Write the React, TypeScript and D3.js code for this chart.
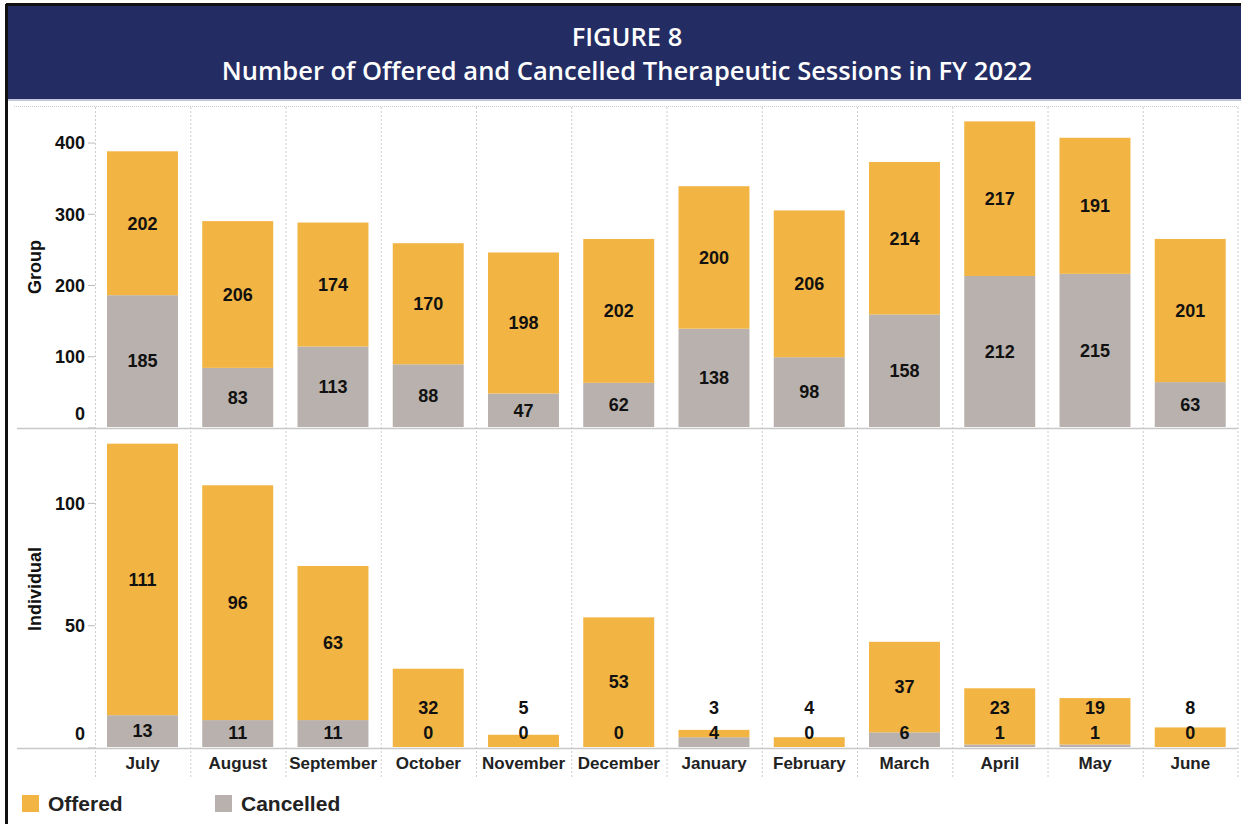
import React from 'react'
import * as d3 from 'd3'

const months = ['July', 'August', 'September', 'October', 'November', 'December', 'January', 'February', 'March', 'April', 'May', 'June']
const groupOffered = [202, 206, 174, 170, 198, 202, 200, 206, 214, 217, 191, 201]
const groupCancelled = [185, 83, 113, 88, 47, 62, 138, 98, 158, 212, 215, 63]
const indOffered = [111, 96, 63, 32, 5, 53, 3, 4, 37, 23, 19, 8]
const indCancelled = [13, 11, 11, 0, 0, 0, 4, 0, 6, 1, 1, 0]
const groupTicks = [0, 100, 200, 300, 400]
const indTicks = [0, 50, 100]

const ORANGE = '#F2B443'
const GREY = '#B8B1AD'
const NAVY = '#232D63'
const FONT = '"Liberation Sans", Arial, sans-serif'

const W = 1241
const H = 824
const left = 95
const right = 1238

const x = d3.scaleBand<string>().domain(months).range([left, right]).padding(0)

type PanelProps = {
  title: string
  offered: number[]
  cancelled: number[]
  ticks: number[]
  yMax: number
  top: number
  bottom: number
}

function Panel({ title, offered, cancelled, ticks, yMax, top, bottom }: PanelProps) {
  const y = d3.scaleLinear().domain([0, yMax]).range([bottom, top])
  const bw = x.bandwidth()
  return (
    <g>
      {ticks.map(t => (
        <g key={t}>
          <line x1={88} x2={left} y1={y(t)} y2={y(t)} stroke="#bbb" />
          <text x={85} y={y(t) + (t === 0 ? -14 : 0)} dy="0.35em" textAnchor="end" fontSize={18} fontWeight="bold" fill="#111">{t}</text>
        </g>
      ))}
      <text transform={`translate(41,${(top + bottom) / 2}) rotate(-90)`} textAnchor="middle" fontSize={18} fontWeight="bold" fill="#111">{title}</text>
      {months.map((m, i) => {
        const bx = x(m)! + bw * 0.126
        const w = bw * 0.745
        const c = cancelled[i]
        const o = offered[i]
        const y0 = y(0) - 1
        const yc = y(c) - 1
        const yo = y(c + o) - 1
        const cLabel = Math.min((y0 + yc) / 2, y0 - 14)
        const oLabel = Math.min((yc + yo) / 2, cLabel - 25)
        const cx = bx + w / 2
        return (
          <g key={m}>
            <rect x={bx} y={yc} width={w} height={y0 - yc} fill={GREY} />
            <rect x={bx} y={yo} width={w} height={yc - yo} fill={ORANGE} />
            <text x={cx} y={cLabel} dy="0.35em" textAnchor="middle" fontSize={18} fontWeight="bold" fill="#111">{c}</text>
            <text x={cx} y={oLabel} dy="0.35em" textAnchor="middle" fontSize={18} fontWeight="bold" fill="#111">{o}</text>
          </g>
        )
      })}
      <line x1={17} x2={right} y1={bottom + 0.5} y2={bottom + 0.5} stroke="#c8c8c8" strokeWidth={1.5} />
    </g>
  )
}

export default function App() {
  const bw = x.bandwidth()
  return (
    <svg width={W} height={H} style={{ position: 'absolute', left: 0, top: 0, background: '#fff' }} fontFamily={FONT}>
      <rect x={0} y={0} width={W} height={H} fill="#fff" />
      <rect x={8} y={6} width={W - 8} height={93} fill={NAVY} />
      <line x1={6.5} x2={6.5} y1={4} y2={H} stroke="#111" strokeWidth={3} />
      <line x1={6} x2={W} y1={4.5} y2={4.5} stroke="#111" strokeWidth={3} />
      <line x1={8} x2={W} y1={100} y2={100} stroke="#aeb4cc" strokeWidth={1.5} />
      <text x={627} y={46} textAnchor="middle" fontSize={25.5} fill="#fff" fontFamily='"Open Sans", sans-serif' fontWeight={600}>FIGURE 8</text>
      <text x={627} y={80} textAnchor="middle" fontSize={25.5} fill="#fff" fontFamily='"Open Sans", sans-serif' fontWeight={600}>Number of Offered and Cancelled Therapeutic Sessions in FY 2022</text>
      <line x1={14} x2={right} y1={106.5} y2={106.5} stroke="#ccc" strokeDasharray="1,1" />
      {months.map(m => (
        <line key={m} x1={x(m)! + 0.5} x2={x(m)! + 0.5} y1={107} y2={777} stroke="#ccc" strokeDasharray="2,2" />
      ))}
      <line x1={right} x2={right} y1={107} y2={777} stroke="#ccc" strokeDasharray="2,2" />
      <Panel title="Group" offered={groupOffered} cancelled={groupCancelled} ticks={groupTicks} yMax={452} top={106} bottom={428} />
      <Panel title="Individual" offered={indOffered} cancelled={indCancelled} ticks={indTicks} yMax={130} top={430} bottom={748} />
      {months.map(m => (
        <text key={m} x={x(m)! + bw / 2} y={763} dy="0.35em" textAnchor="middle" fontSize={17} fontWeight="bold" fill="#222">{m}</text>
      ))}
      <rect x={22} y={795} width={17} height={17} fill={ORANGE} />
      <text x={48} y={804} dy="0.35em" fontSize={21} fontWeight="bold" fill="#222">Offered</text>
      <rect x={215} y={795} width={17} height={17} fill={GREY} />
      <text x={241} y={804} dy="0.35em" fontSize={21} fontWeight="bold" fill="#222">Cancelled</text>
    </svg>
  )
}
